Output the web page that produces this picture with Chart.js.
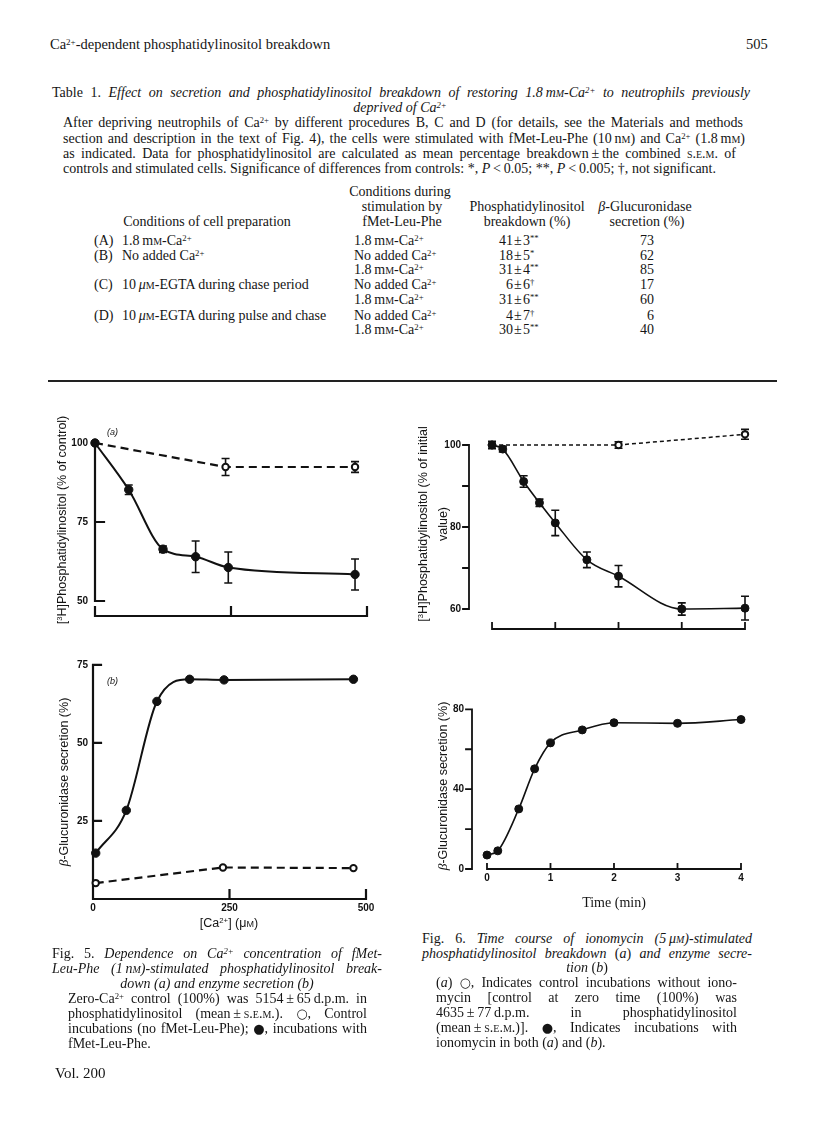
<!DOCTYPE html>
<html>
<head>
<meta charset="utf-8">
<script src="https://cdn.jsdelivr.net/npm/chart.js@4.4.1/dist/chart.umd.min.js"></script>
<style>
body{margin:0;background:#fff;width:816px;height:1136px;position:relative;overflow:hidden;font-family:"Liberation Serif","Times New Roman",serif;color:#151515}
.t{position:absolute;white-space:nowrap;line-height:15px;font-size:14px}
.j{position:absolute;white-space:nowrap;line-height:15px;font-size:14px}
.cap{font-size:14px}
.c{transform:translateX(-50%)}
.sc{font-variant:small-caps}
.sym{font-family:"DejaVu Sans",sans-serif;font-size:13px;line-height:0}
sup{font-size:0.62em;vertical-align:0.5em;line-height:0}
canvas{position:absolute}
.ylab{position:absolute;font-family:"Liberation Sans",Arial,sans-serif;font-size:12.5px;white-space:nowrap;text-align:center;line-height:20px;transform:translate(-50%,-50%) rotate(-90deg)}
.xlab{position:absolute;font-family:"Liberation Sans",Arial,sans-serif;font-size:12.5px;white-space:nowrap;transform:translate(-50%,-50%)}
.panel{position:absolute;font-family:"Liberation Sans",Arial,sans-serif;font-size:9px;font-style:italic}
.rule{position:absolute;left:48px;top:380px;width:729px;height:2px;background:#222}
</style>
</head>
<body>

<div class="t" style="left:50px;top:37px;font-size:14.5px">Ca<sup>2+</sup>-dependent phosphatidylinositol breakdown</div>
<div class="t" style="left:746px;top:37px;font-size:14.5px">505</div>

<div class="j" data-w="698" style="left:52px;top:85px">Table 1. <i>Effect on secretion and phosphatidylinositol breakdown of restoring 1.8&#8201;m<span class="sc">m</span>-Ca<sup>2+</sup> to neutrophils previously</i></div>
<div class="t c" style="left:400px;top:100px"><i>deprived of Ca<sup>2+</sup></i></div>
<div class="j" data-w="680" style="left:63px;top:115px">After depriving neutrophils of Ca<sup>2+</sup> by different procedures B, C and D (for details, see the Materials and methods</div>
<div class="j" data-w="682" style="left:63px;top:131px">section and description in the text of Fig. 4), the cells were stimulated with fMet-Leu-Phe (10&#8201;n<span class="sc">m</span>) and Ca<sup>2+</sup> (1.8&#8201;m<span class="sc">m</span>)</div>
<div class="j" data-w="673" style="left:63px;top:146px">as indicated. Data for phosphatidylinositol are calculated as mean percentage breakdown&#8201;±&#8201;the combined <span class="sc">s.e.m.</span> of</div>
<div class="j" data-w="653" style="left:63px;top:161px">controls and stimulated cells. Significance of differences from controls: *, <i>P</i>&#8201;&lt;&#8201;0.05; **, <i>P</i>&#8201;&lt;&#8201;0.005; †, not significant.</div>

<div id="table"></div>

<div class="rule"></div>

<canvas id="c5a"></canvas>
<canvas id="c5b"></canvas>
<canvas id="c6a"></canvas>
<canvas id="c6b"></canvas>

<div class="ylab" style="left:62px;top:520px">[<sup>3</sup>H]Phosphatidylinositol (% of control)</div>
<div class="ylab" style="left:64px;top:782px"><i style="font-family:'Liberation Serif',serif;font-size:13.5px">β</i>-Glucuronidase secretion (%)</div>
<div class="ylab" style="left:433px;top:524px">[<sup>3</sup>H]Phosphatidylinositol (% of initial<br>value)</div>
<div class="ylab" style="left:443px;top:786px"><i style="font-family:'Liberation Serif',serif;font-size:13.5px">β</i>-Glucuronidase secretion (%)</div>
<div class="xlab" style="left:229px;top:923px">[Ca<sup>2+</sup>] (μ<span class="sc">m</span>)</div>
<div class="xlab" style="left:614px;top:903px;font-family:'Liberation Serif',serif;font-size:14px">Time (min)</div>
<div class="panel" style="left:107px;top:427px">(a)</div>
<div class="panel" style="left:107px;top:676px">(b)</div>

<div class="j cap" data-w="330" style="left:52px;top:946px">Fig. 5. <i>Dependence on Ca<sup>2+</sup> concentration of fMet-</i></div>
<div class="j cap" data-w="330" style="left:52px;top:961px"><i>Leu-Phe (1&#8201;n<span class="sc">m</span>)-stimulated phosphatidylinositol break-</i></div>
<div class="t c cap" style="left:217px;top:976px"><i>down (a) and enzyme secretion (b)</i></div>
<div class="j cap" data-w="299" style="left:68px;top:991px">Zero-Ca<sup>2+</sup> control (100%) was 5154&#8201;±&#8201;65&#8201;d.p.m. in</div>
<div class="j cap" data-w="299" style="left:68px;top:1006px">phosphatidylinositol (mean&#8201;±&#8201;<span class="sc">s.e.m.</span>). <span class="sym">○</span>, Control</div>
<div class="j cap" data-w="299" style="left:68px;top:1021px">incubations (no fMet-Leu-Phe); <span class="sym">●</span>, incubations with</div>
<div class="t cap" style="left:68px;top:1036px">fMet-Leu-Phe.</div>
<div class="t" style="left:55px;top:1066px;font-size:15px">Vol. 200</div>

<div class="j cap" data-w="330" style="left:422px;top:931px">Fig. 6. <i>Time course of ionomycin (5&#8201;μ<span class="sc">m</span>)-stimulated</i></div>
<div class="j cap" data-w="330" style="left:422px;top:946px"><i>phosphatidylinositol breakdown</i> (<i>a</i>) <i>and enzyme secre-</i></div>
<div class="t c cap" style="left:587px;top:960px"><i>tion</i> (<i>b</i>)</div>
<div class="j cap" data-w="301" style="left:436px;top:975px">(<i>a</i>) <span class="sym">○</span>, Indicates control incubations without iono-</div>
<div class="j cap" data-w="301" style="left:436px;top:990px">mycin [control at zero time (100%) was</div>
<div class="j cap" data-w="301" style="left:436px;top:1005px">4635&#8201;±&#8201;77&#8201;d.p.m. in phosphatidylinositol</div>
<div class="j cap" data-w="301" style="left:436px;top:1020px">(mean&#8201;±&#8201;<span class="sc">s.e.m.</span>)]. <span class="sym">●</span>, Indicates incubations with</div>
<div class="t cap" style="left:436px;top:1035px">ionomycin in both (<i>a</i>) and (<i>b</i>).</div>

<script>
// Fig. 5(a): [3H]phosphatidylinositol (% of control) vs [Ca2+] (uM)
const caFmlp5a = [0, 62, 125, 185, 245, 478];
const piFmlp5a = [100, 85.2, 66.4, 64.0, 60.6, 58.4];
const piFmlpErr5a = [0, 1.5, 1.0, 5.0, 4.9, 4.9];
const caCtrl5a = [0, 240, 478];
const piCtrl5a = [100, 92.4, 92.4];
const piCtrlErr5a = [0, 2.7, 1.7];

// Fig. 5(b): beta-glucuronidase secretion (%) vs [Ca2+] (uM)
const caFmlp5b = [5, 61, 117, 177, 240, 477];
const secFmlp5b = [14.7, 28.4, 63.3, 70.4, 70.2, 70.4];
const caCtrl5b = [5, 238, 477];
const secCtrl5b = [5.1, 10.1, 9.9];

// Fig. 6(a): [3H]phosphatidylinositol (% of initial value) vs time (min)
const timeIono6a = [0, 0.17, 0.5, 0.75, 1, 1.5, 2, 3, 4];
const piIono6a = [100, 99.0, 91.1, 85.9, 81.0, 72.0, 68.0, 60.0, 60.2];
const piIonoErr6a = [0.9, 0.7, 1.4, 0.9, 3.1, 1.9, 2.6, 1.5, 2.9];
const timeCtrl6a = [0, 2, 4];
const piCtrl6a = [100, 100, 102.6];
const piCtrlErr6a = [0, 0.8, 1.2];

// Fig. 6(b): beta-glucuronidase secretion (%) vs time (min)
const timeIono6b = [0, 0.17, 0.5, 0.75, 1, 1.5, 2, 3, 4];
const secIono6b = [7.0, 9.1, 30.1, 50.2, 63.2, 69.7, 73.3, 73.0, 74.9];

// tick values
const caTicks = [0, 250, 500];
const timeTicks = [0, 1, 2, 3, 4];
const yTicks5a = [50, 75];
const yLabels5a = [50, 75, 100];
const yTicks5b = [25, 50, 75];
const yLabels5b = [25, 50, 75];
const yTicks6a = [60, 70, 80, 90, 100];
const yLabels6a = [60, 80, 100];
const yTicks6b = [0, 20, 40, 60, 80];
const yLabels6b = [0, 40, 80];

// Table 1
const rowY = [241, 256, 270, 285, 300, 316, 330];
const prepLabel = ['(A)', '(B)', '', '(C)', '', '(D)', ''];
const prepText = ['1.8&#8201;m<span class="sc">m</span>-Ca<sup>2+</sup>', 'No added Ca<sup>2+</sup>', '',
  '10&#8201;<i>μ</i><span class="sc">m</span>-EGTA during chase period', '',
  '10&#8201;<i>μ</i><span class="sc">m</span>-EGTA during pulse and chase', ''];
const stimText = ['1.8mm', 'none', '1.8mm', 'none', '1.8mm', 'none', '1.8mm'];
const piMean = ['41', '18', '31', '6', '31', '4', '30'];
const piSem = ['3', '5', '4', '6', '6', '7', '5'];
const piSig = ['**', '*', '**', '†', '**', '†', '**'];
const secretion = ['73', '62', '85', '17', '60', '6', '40'];

function buildTable() {
  const caHi = '1.8&#8201;m<span class="sc">m</span>-Ca<sup>2+</sup>';
  const caNo = 'No added Ca<sup>2+</sup>';
  let h = '';
  const cell = (style, html) => `<div class="t" style="${style}">${html}</div>`;
  h += cell('left:400px;top:184px;transform:translateX(-50%)', 'Conditions during');
  h += cell('left:402px;top:199px;transform:translateX(-50%)', 'stimulation by');
  h += cell('left:402px;top:214px;transform:translateX(-50%)', 'fMet-Leu-Phe');
  h += cell('left:207px;top:214px;transform:translateX(-50%)', 'Conditions of cell preparation');
  h += cell('left:527px;top:199px;transform:translateX(-50%)', 'Phosphatidylinositol');
  h += cell('left:527px;top:214px;transform:translateX(-50%)', 'breakdown (%)');
  h += cell('left:645px;top:199px;transform:translateX(-50%)', '<i>β</i>-Glucuronidase');
  h += cell('left:647px;top:214px;transform:translateX(-50%)', 'secretion (%)');
  rowY.forEach((y, i) => {
    const top = y - 8;
    if (prepLabel[i]) h += cell(`left:94px;top:${top}px`, prepLabel[i]);
    if (prepText[i]) h += cell(`left:122px;top:${top}px`, prepText[i]);
    h += cell(`left:354px;top:${top}px`, stimText[i] === 'none' ? caNo : caHi);
    h += cell(`right:${816 - 513}px;top:${top}px`, piMean[i]);
    h += cell(`left:514px;top:${top}px`, '±');
    h += cell(`left:523px;top:${top}px`, piSem[i] + '<sup>' + piSig[i] + '</sup>');
    h += cell(`right:${816 - 654}px;top:${top}px`, secretion[i]);
  });
  document.getElementById('table').innerHTML = h;
}
buildTable();

// stretch justified lines to their measured width
document.querySelectorAll('.j').forEach(el => {
  const w = parseFloat(el.dataset.w);
  const nat = el.getBoundingClientRect().width;
  const gaps = (el.textContent.match(/ /g) || []).length;
  if (gaps) el.style.wordSpacing = ((w - nat) / gaps) + 'px';
});

Chart.defaults.font.family = "'Liberation Sans', Arial, sans-serif";
Chart.defaults.font.size = 10;
Chart.defaults.font.weight = 'bold';
Chart.defaults.color = '#111';

const pts = (xs, ys) => xs.map((x, i) => ({ x: x, y: ys[i] }));

// draws the split axes, tick marks and error bars from the chart's scales
const axisFrame = {
  id: 'axisFrame',
  beforeDatasetsDraw(chart, args, o) {
    const ctx = chart.ctx;
    const xs = chart.scales.x, ys = chart.scales.y;
    const ax = chart.chartArea.left;
    const by = chart.chartArea.bottom;
    ctx.save();
    ctx.strokeStyle = '#111';
    ctx.lineWidth = o.lw;
    ctx.lineCap = 'square';
    ctx.beginPath();
    ctx.moveTo(ax, ys.getPixelForValue(o.yFrom));
    ctx.lineTo(ax, ys.getPixelForValue(o.yTo));
    o.yMarks.forEach(v => {
      const py = ys.getPixelForValue(v);
      ctx.moveTo(ax, py);
      ctx.lineTo(ax + o.yMarkLen, py);
    });
    ctx.moveTo(xs.getPixelForValue(o.xFrom), by);
    ctx.lineTo(xs.getPixelForValue(o.xTo), by);
    o.xMarks.forEach(v => {
      const px = xs.getPixelForValue(v);
      ctx.moveTo(px, by);
      ctx.lineTo(px, by - o.xMarkLen);
    });
    ctx.stroke();

    chart.data.datasets.forEach((ds, di) => {
      if (!ds.errors) return;
      const meta = chart.getDatasetMeta(di);
      ctx.lineWidth = 1.6;
      ctx.lineCap = 'butt';
      ctx.beginPath();
      meta.data.forEach((pt, i) => {
        const e = ds.errors[i];
        if (!e || e < 0.5) return;
        const v = ds.data[i].y;
        const y1 = ys.getPixelForValue(v + e), y2 = ys.getPixelForValue(v - e);
        ctx.moveTo(pt.x, y1); ctx.lineTo(pt.x, y2);
        ctx.moveTo(pt.x - 4, y1); ctx.lineTo(pt.x + 4, y1);
        ctx.moveTo(pt.x - 4, y2); ctx.lineTo(pt.x + 4, y2);
      });
      ctx.stroke();
    });
    ctx.restore();
  }
};

function makeChart(id, box, o, datasets) {
  const cv = document.getElementById(id);
  cv.style.left = box.left + 'px';
  cv.style.top = box.top + 'px';
  cv.width = box.w;
  cv.height = box.h;
  return new Chart(cv, {
    type: 'scatter',
    data: { datasets: datasets },
    options: {
      responsive: false,
      animation: false,
      devicePixelRatio: 1,
      events: [],
      layout: { padding: { top: box.pt, right: box.pr, left: 0, bottom: 0 } },
      plugins: { legend: { display: false }, tooltip: { enabled: false }, axisFrame: o },
      scales: {
        x: {
          type: 'linear', min: o.xMin, max: o.xMax,
          grid: { display: false, drawTicks: false },
          border: { display: false },
          ticks: { display: o.xLabels.length > 0, padding: 3, autoSkip: false, maxRotation: 0 },
          afterBuildTicks: s => { s.ticks = o.xLabels.map(v => ({ value: v })); },
          afterFit: s => { s.height = box.xh; }
        },
        y: {
          type: 'linear', min: o.yMin, max: o.yMax,
          grid: { display: false, drawTicks: false },
          border: { display: false },
          ticks: { padding: o.yPad, autoSkip: false },
          afterBuildTicks: s => { s.ticks = o.yLabels.map(v => ({ value: v })); },
          afterFit: s => { s.width = box.yw; }
        }
      }
    },
    plugins: [axisFrame]
  });
}

const filled = (data, err, r, lw) => ({
  data: data, errors: err, showLine: true, clip: false,
  borderColor: '#111', borderWidth: lw, cubicInterpolationMode: 'monotone',
  pointRadius: r, pointBackgroundColor: '#111', pointBorderColor: '#111', pointBorderWidth: 1
});
const open = (data, err, dash, lw) => ({
  data: data, errors: err, showLine: true, clip: false,
  borderColor: '#111', borderWidth: lw, borderDash: dash,
  pointRadius: 3.2, pointBackgroundColor: '#fff', pointBorderColor: '#111', pointBorderWidth: 2
});

makeChart('c5a', { left: 30, top: 400, w: 360, h: 240, yw: 65, pr: 23, pt: 27, xh: 24 },
  { xMin: 0, xMax: 500, yMin: 45.25, yMax: 105.06, yFrom: 50, yTo: 100, yMarks: yTicks5a, yMarkLen: 9,
    xFrom: 0, xTo: 500, xMarks: caTicks, xMarkLen: 9, xLabels: [], yLabels: yLabels5a, yPad: 7, lw: 2.2 },
  [filled(pts(caFmlp5a, piFmlp5a), piFmlpErr5a, 4.2, 2),
   open(pts(caCtrl5a, piCtrl5a), piCtrlErr5a, [8, 5], 2.2)]);

makeChart('c5b', { left: 30, top: 630, w: 360, h: 300, yw: 63, pr: 24, pt: 19, xh: 31 },
  { xMin: 0, xMax: 500, yMin: 0, yMax: 80.1, yFrom: 0, yTo: 75, yMarks: yTicks5b, yMarkLen: 8,
    xFrom: 0, xTo: 500, xMarks: [250, 500], xMarkLen: 9, xLabels: caTicks, yLabels: yLabels5b, yPad: 5, lw: 2.2 },
  [filled(pts(caFmlp5b, secFmlp5b), null, 4.2, 2),
   open(pts(caCtrl5b, secCtrl5b), null, [8, 5], 2.2)]);

makeChart('c6a', { left: 410, top: 400, w: 370, h: 245, yw: 59, pr: 35, pt: 29, xh: 16 },
  { xMin: -0.364, xMax: 4, yMin: 55.12, yMax: 103.9, yFrom: 60, yTo: 100, yMarks: yTicks6a, yMarkLen: -6,
    xFrom: 0, xTo: 4, xMarks: timeTicks, xMarkLen: 6, xLabels: [], yLabels: yLabels6a, yPad: 8, lw: 1.8 },
  [filled(pts(timeIono6a, piIono6a), piIonoErr6a, 4, 1.6),
   open(pts(timeCtrl6a, piCtrl6a), piCtrlErr6a, [4, 3], 1.5)]);

makeChart('c6b', { left: 410, top: 680, w: 370, h: 225, yw: 62, pr: 39, pt: 10, xh: 36 },
  { xMin: -0.236, xMax: 4, yMin: 0, yMax: 87.7, yFrom: 0, yTo: 80, yMarks: yTicks6b, yMarkLen: -6,
    xFrom: 0, xTo: 4, xMarks: timeTicks, xMarkLen: 5, xLabels: timeTicks, yLabels: yLabels6b, yPad: 8, lw: 1.8 },
  [filled(pts(timeIono6b, secIono6b), null, 4, 1.6)]);
</script>
</body>
</html>
